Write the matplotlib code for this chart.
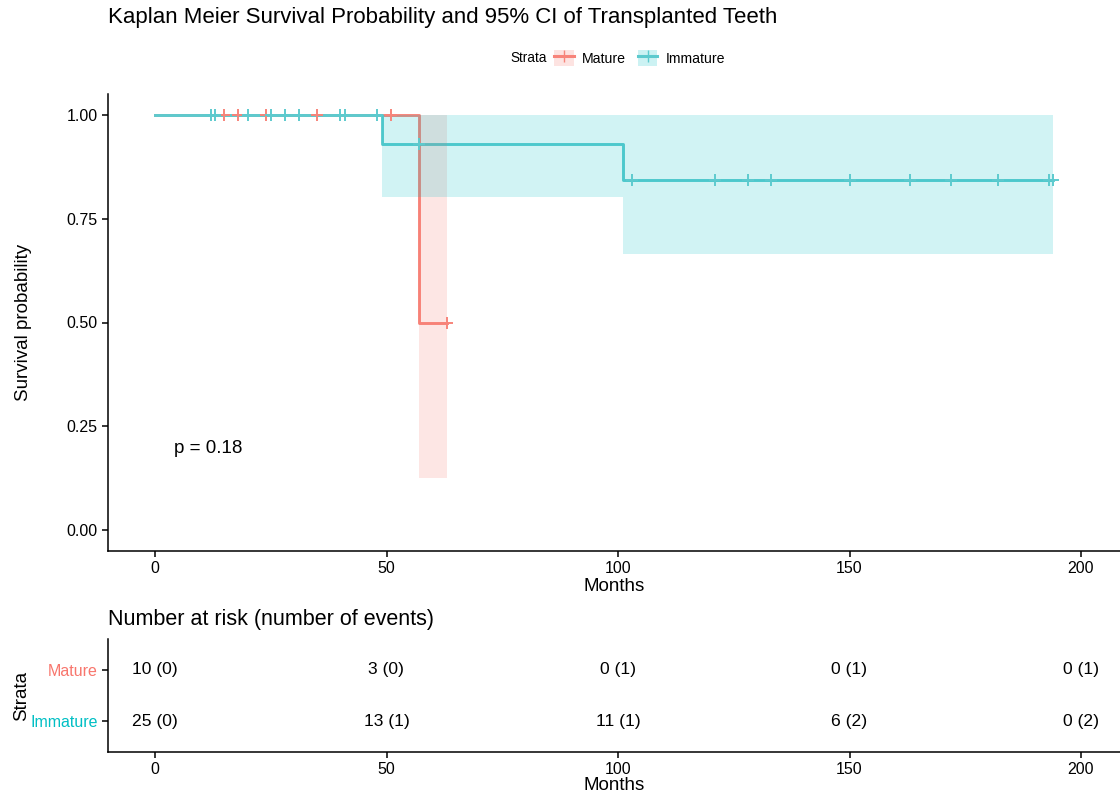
import numpy as np
import matplotlib
matplotlib.use("Agg")
import matplotlib.pyplot as plt
from matplotlib.patches import Patch
from matplotlib.lines import Line2D
from matplotlib.legend_handler import HandlerTuple

plt.rcParams['font.family'] = ['Liberation Sans', 'DejaVu Sans']

red = '#F8766D'
cyan = '#00BFC4'
red_line = '#F7847A'
cyan_line = '#5DCACE'

# Kaplan-Meier steps
mature_t = [0, 57, 63]
mature_s = [1.0, 0.5, 0.5]
mature_lo = [1.0, 0.125, 0.125]
mature_hi = [1.0, 1.0, 1.0]
mature_cens = [15, 18, 24, 35, 51, 63]

immature_t = [0, 49, 101, 194]
immature_s = [1.0, 0.9286, 0.8442, 0.8442]
immature_lo = [1.0, 0.803, 0.666, 0.666]
immature_hi = [1.0, 1.0, 1.0, 1.0]
immature_cens = [12, 13, 20, 25, 28, 31, 40, 41, 48, 57,
                 103, 121, 128, 133, 150, 163, 172, 182, 193, 194]

risk_times = [0, 50, 100, 150, 200]
mature_risk = ['10 (0)', '3 (0)', '0 (1)', '0 (1)', '0 (1)']
immature_risk = ['25 (0)', '13 (1)', '11 (1)', '6 (2)', '0 (2)']
pval = 'p = 0.18'


def step_value(t, s, x):
    idx = np.searchsorted(t, x, side='right') - 1
    return np.array(s)[idx]


W, H = 1120, 794
fig = plt.figure(figsize=(W / 100, H / 100), dpi=100)

xlim = ((108 - 155) / 4.63, (1120 - 155) / 4.63)

ax = fig.add_axes([108 / W, (H - 551) / H, (1120 - 108) / W, (551 - 94) / H])
for t, s, lo, hi, cens, lc, fc in [
        (mature_t, mature_s, mature_lo, mature_hi, mature_cens, red_line, red),
        (immature_t, immature_s, immature_lo, immature_hi, immature_cens, cyan_line, cyan)]:
    ax.step(t, s, where='post', color=lc, lw=2.1, zorder=2)
    ax.fill_between(t, lo, hi, step='post', color=fc, alpha=0.18, lw=0, zorder=3)
    ax.plot(cens, step_value(t, s, cens), ls='none', marker='+', ms=9, mew=1.4,
            color=lc, zorder=4)

ax.text(4, 0.197, pval, fontsize=13.5, ha='left', va='center')
ax.set_xlim(*xlim)
ax.set_ylim(-0.05, 1.05)
ax.set_xticks([0, 50, 100, 150, 200])
ax.set_yticks([0, 0.25, 0.5, 0.75, 1.0])
ax.set_yticklabels(['0.00', '0.25', '0.50', '0.75', '1.00'])
ax.set_xlabel('Months', fontsize=13.5, labelpad=1)
ax.set_ylabel('Survival probability', fontsize=13.5, labelpad=25)
for sp in ['top', 'right']:
    ax.spines[sp].set_visible(False)
for sp in ['left', 'bottom']:
    ax.spines[sp].set_linewidth(1.1)
ax.tick_params(labelsize=11.5, length=4, width=1.1, colors='black')

fig.text(108 / W, 1 - 18 / H, 'Kaplan Meier Survival Probability and 95% CI of Transplanted Teeth',
         fontsize=16, ha='left', va='center')

# legend
fig.text(510 / W, 1 - 58 / H, 'Strata', fontsize=9.8, ha='left', va='center')
handles = [(Patch(color=red, alpha=0.2, lw=0), Line2D([], [], color=red_line, lw=2.2, marker='+', ms=8)),
           (Patch(color=cyan, alpha=0.2, lw=0), Line2D([], [], color=cyan_line, lw=2.2, marker='+', ms=8))]
fig.legend(handles, ['Mature', 'Immature'], ncol=2, frameon=False, fontsize=10.2,
           loc='center left', bbox_to_anchor=(544 / W, 1 - 58 / H),
           handler_map={tuple: HandlerTuple(ndivide=1, pad=0)},
           handlelength=1.4, handleheight=1.4, handletextpad=0.6, columnspacing=0.8,
           borderpad=0.2)

# risk table
tx = fig.add_axes([108 / W, (H - 752) / H, (1120 - 108) / W, (752 - 639) / H])
for i, x in enumerate(risk_times):
    tx.text(x, 2, mature_risk[i], fontsize=12.6, ha='center', va='center')
    tx.text(x, 1, immature_risk[i], fontsize=12.6, ha='center', va='center')
tx.set_xlim(*xlim)
tx.set_ylim(0.4, 2.6)
tx.set_xticks(risk_times)
tx.set_yticks([2, 1])
tx.set_yticklabels(['Mature', 'Immature'])
tx.get_yticklabels()[0].set_color(red)
tx.get_yticklabels()[1].set_color(cyan)
tx.set_xlabel('Months', fontsize=13.5, labelpad=0)
tx.set_ylabel('Strata', fontsize=13.5, labelpad=0)
for sp in ['top', 'right']:
    tx.spines[sp].set_visible(False)
for sp in ['left', 'bottom']:
    tx.spines[sp].set_linewidth(1.1)
tx.tick_params(labelsize=11.5, length=4, width=1.1)
tx.tick_params(axis='x', colors='black')
tx.tick_params(axis='y', color='black')
fig.text(108 / W, 1 - 620 / H, 'Number at risk (number of events)', fontsize=15.5,
         ha='left', va='center')

fig.savefig('out.png', dpi=100)
